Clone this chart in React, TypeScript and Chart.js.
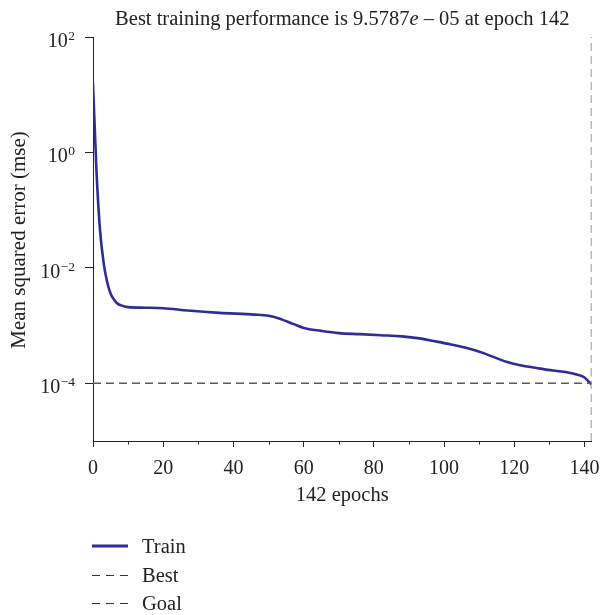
import React, { useEffect, useRef } from "react";
import { Chart, registerables } from "chart.js";

Chart.register(...registerables);

// ---- data ----
const epochs = [0, 1, 2, 3, 4, 5, 6, 7, 8, 10, 15, 20, 27, 36, 46, 50, 53, 57, 60, 65, 70, 76, 82, 88, 93, 97, 102, 107, 112, 118, 122, 126, 131, 135, 138, 140, 141, 142];
const trainMse = [16, 0.46, 0.045, 0.0126, 0.0058, 0.0036, 0.0028, 0.0024, 0.00224, 0.00209, 0.00204, 0.002, 0.00182, 0.00166, 0.00155, 0.00148, 0.00133, 0.00107, 0.00091, 0.00081, 0.00074, 0.00071, 0.00068, 0.00065, 0.0006, 0.00054, 0.00047, 0.0004, 0.00032, 0.000234, 0.000204, 0.000186, 0.000166, 0.000155, 0.000141, 0.000126, 0.00011, 9.5787e-5];
const bestEpoch = 142;
const goalMse = 1e-4;
const xMin = 0;
const xMax = 142;
const yMin = 1e-5;
const yMax = 1e2;
const yTickValues = [1e-4, 1e-2, 1, 1e2];
const yTickExponents = ["−4", "−2", "0", "2"];
const xMajorTicks = [0, 20, 40, 60, 80, 100, 120, 140];
const xMinorTicks = [10, 30, 50, 70, 90, 110, 130];
const titleParts = ["Best training performance is 9.5787", "e", " – 05 at epoch 142"];
const xTitle = "142 epochs";
const yTitle = "Mean squared error (mse)";
const legendLabels = ["Train", "Best", "Goal"];

const FONT = "'Liberation Serif', 'Times New Roman', serif";
const TRAIN_COLOR = "#2f2c96";
const GOAL_COLOR = "#5a5a5a";
const BEST_COLOR = "#777777";
const AXIS_COLOR = "#222222";
const TEXT_COLOR = "#222222";

const decorPlugin = {
  id: "decor",
  afterDraw(chart: any) {
    const ctx = chart.ctx as CanvasRenderingContext2D;
    const { left, right, bottom } = chart.chartArea;
    const xs = chart.scales.x;
    const ys = chart.scales.y;
    ctx.save();
    ctx.fillStyle = TEXT_COLOR;

    // title
    const fs = 20.5;
    ctx.textBaseline = "alphabetic";
    ctx.textAlign = "left";
    const fonts = [`${fs}px ${FONT}`, `italic ${fs}px ${FONT}`, `${fs}px ${FONT}`];
    const widths = titleParts.map((t, i) => {
      ctx.font = fonts[i];
      return ctx.measureText(t).width;
    });
    const total = widths.reduce((a, b) => a + b, 0);
    let tx = (left + right) / 2 - total / 2;
    titleParts.forEach((t, i) => {
      ctx.font = fonts[i];
      ctx.fillText(t, tx, 24.5);
      tx += widths[i];
    });

    // y tick labels (10^n)
    yTickValues.forEach((v, i) => {
      const py = ys.getPixelForValue(v);
      ctx.font = `13.5px ${FONT}`;
      const ew = ctx.measureText(yTickExponents[i]).width;
      const rightEdge = 75;
      ctx.textAlign = "left";
      ctx.fillText(yTickExponents[i], rightEdge - ew, py + 3);
      ctx.font = `20px ${FONT}`;
      ctx.textAlign = "right";
      ctx.fillText("10", rightEdge - ew - 0.5, py + 10);
    });

    // x tick labels
    ctx.font = `20px ${FONT}`;
    ctx.textAlign = "center";
    xMajorTicks.forEach((v) => {
      ctx.fillText(String(v), xs.getPixelForValue(v), 473.5);
    });

    // x minor ticks
    ctx.strokeStyle = AXIS_COLOR;
    ctx.lineWidth = 1;
    xMinorTicks.forEach((v) => {
      const px = Math.round(xs.getPixelForValue(v)) + 0.5;
      ctx.beginPath();
      ctx.moveTo(px, bottom);
      ctx.lineTo(px, bottom + 3.5);
      ctx.stroke();
    });

    // x title
    ctx.font = `${fs}px ${FONT}`;
    ctx.textAlign = "center";
    ctx.fillText(xTitle, (left + right) / 2, 501);

    // y title
    ctx.save();
    ctx.translate(25, 240);
    ctx.rotate(-Math.PI / 2);
    ctx.textAlign = "center";
    ctx.font = `21px ${FONT}`;
    ctx.fillText(yTitle, 0, 0);
    ctx.restore();

    // legend
    const rows = [546, 575, 603];
    rows.forEach((ry, i) => {
      ctx.beginPath();
      if (i === 0) {
        ctx.strokeStyle = TRAIN_COLOR;
        ctx.lineWidth = 3;
        ctx.setLineDash([]);
        ctx.moveTo(92, ry);
        ctx.lineTo(128, ry);
      } else {
        ctx.strokeStyle = "#333333";
        ctx.lineWidth = 1;
        ctx.setLineDash([8, 6]);
        ctx.moveTo(92, ry + 0.5);
        ctx.lineTo(128, ry + 0.5);
      }
      ctx.stroke();
      ctx.setLineDash([]);
      ctx.textAlign = "left";
      ctx.font = `${fs}px ${FONT}`;
      ctx.fillText(legendLabels[i], 142, ry + 6.5);
    });

    ctx.restore();
  },
};

export default function App() {
  const canvasRef = useRef<HTMLCanvasElement | null>(null);

  useEffect(() => {
    if (!canvasRef.current) return;
    const trainPoints = epochs.map((e, i) => ({ x: e, y: trainMse[i] }));
    const chart = new Chart(canvasRef.current, {
      type: "line",
      data: {
        datasets: [
          {
            label: "Goal",
            data: [
              { x: xMin, y: goalMse },
              { x: xMax, y: goalMse },
            ],
            borderColor: GOAL_COLOR,
            borderWidth: 1.5,
            borderDash: [8, 5],
            pointRadius: 0,
          },
          {
            label: "Best",
            data: [
              { x: bestEpoch, y: yMin },
              { x: bestEpoch, y: yMax },
            ],
            borderColor: BEST_COLOR,
            borderWidth: 1.5,
            borderDash: [8, 5],
            pointRadius: 0,
          },
          {
            label: "Train",
            data: trainPoints,
            borderColor: TRAIN_COLOR,
            borderWidth: 2.6,
            pointRadius: 0,
            cubicInterpolationMode: "monotone",
          },
        ],
      },
      options: {
        animation: false,
        responsive: true,
        maintainAspectRatio: false,
        layout: { padding: { top: 37, right: 8.5, bottom: 0, left: 0 } },
        plugins: {
          legend: { display: false },
          title: { display: false },
          tooltip: { enabled: false },
        },
        scales: {
          x: {
            type: "linear",
            min: xMin,
            max: xMax,
            afterBuildTicks: (s: any) => {
              s.ticks = xMajorTicks.map((v) => ({ value: v }));
            },
            afterFit: (s: any) => {
              s.height = 174;
              s.paddingLeft = 0;
              s.paddingRight = 0;
            },
            ticks: { display: false },
            grid: {
              display: true,
              drawOnChartArea: false,
              drawTicks: true,
              tickLength: 6,
              color: AXIS_COLOR,
            },
            border: { display: true, color: AXIS_COLOR, width: 1 },
          },
          y: {
            type: "logarithmic",
            min: yMin,
            max: yMax,
            afterBuildTicks: (s: any) => {
              s.ticks = yTickValues.map((v) => ({ value: v }));
            },
            afterFit: (s: any) => {
              s.width = 93;
              s.paddingTop = 0;
              s.paddingBottom = 0;
            },
            ticks: { display: false },
            grid: {
              display: true,
              drawOnChartArea: false,
              drawTicks: true,
              tickLength: 8,
              color: AXIS_COLOR,
            },
            border: { display: true, color: AXIS_COLOR, width: 1 },
          },
        },
      },
      plugins: [decorPlugin],
    } as any);
    return () => chart.destroy();
  }, []);

  return (
    <div style={{ position: "fixed", left: 0, top: 0, width: 600, height: 615, background: "#ffffff" }}>
      <canvas ref={canvasRef} />
    </div>
  );
}
